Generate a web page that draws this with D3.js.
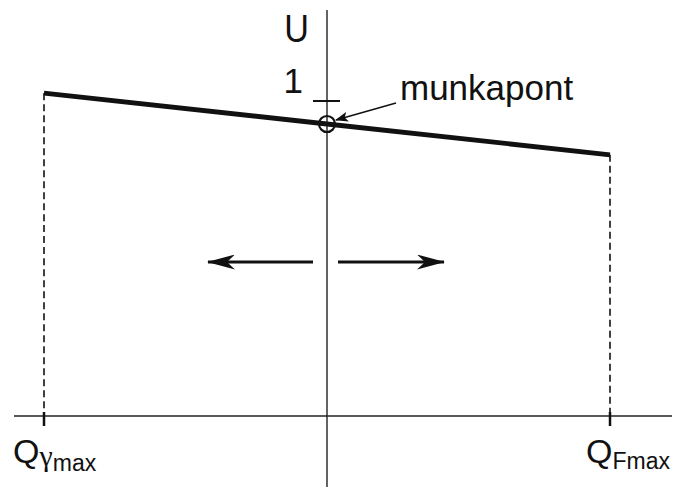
<!DOCTYPE html>
<html>
<head>
<meta charset="utf-8">
<script src="https://cdn.jsdelivr.net/npm/d3@7/dist/d3.min.js"></script>
<style>
  html, body { margin: 0; padding: 0; background: #fff; }
  svg { display: block; font-family: Arial, "Liberation Sans", sans-serif; }
</style>
</head>
<body>
<svg id="chart" width="679" height="487"></svg>
<script>
// Operating range of the load characteristic (Q normalised to -1 … 1)
const qPoints = [-1, 0, 1];
const uValues = [1.025, 0.927, 0.829];
const workPoint = { q: 0, u: 0.927 };
const uTicks = [1];
const uTickLabels = ["1"];
const axisLabelU = "U";
const pointLabel = "munkapont";

const svg = d3.select("#chart");
const x = d3.scaleLinear().domain([-1, 1]).range([44, 610]);
const y = d3.scaleLinear().domain([0, 1]).range([416, 101]);

// axes
svg.append("line").attr("x1", 14).attr("x2", 672)
  .attr("y1", y(0)).attr("y2", y(0))
  .attr("stroke", "#222").attr("stroke-width", 1.4);
svg.append("line").attr("x1", x(0)).attr("x2", x(0))
  .attr("y1", 10).attr("y2", 487)
  .attr("stroke", "#222").attr("stroke-width", 1.4);

// U-axis tick and labels
uTicks.forEach((t, i) => {
  svg.append("line").attr("x1", x(0) - 14).attr("x2", x(0) + 13)
    .attr("y1", y(t)).attr("y2", y(t))
    .attr("stroke", "#111").attr("stroke-width", 2);
  svg.append("text").attr("x", x(0) - 24).attr("y", y(t) - 8)
    .attr("text-anchor", "end").attr("font-size", 35).attr("fill", "#111")
    .text(uTickLabels[i]);
});
svg.append("text").attr("x", x(0) - 18).attr("y", 42)
  .attr("text-anchor", "end").attr("font-size", 38).attr("fill", "#111")
  .attr("transform", `translate(${(x(0) - 18) * 0.1},0) scale(0.9,1)`)
  .text(axisLabelU);

// dashed limits and ticks on Q axis
const data = qPoints.map((q, i) => ({ q, u: uValues[i] }));
[data[0], data[2]].forEach(d => {
  svg.append("line").attr("x1", x(d.q)).attr("x2", x(d.q))
    .attr("y1", y(d.u)).attr("y2", y(0))
    .attr("stroke", "#111").attr("stroke-width", 1.6)
    .attr("stroke-dasharray", "7,4");
  svg.append("line").attr("x1", x(d.q)).attr("x2", x(d.q))
    .attr("y1", y(0) - 4).attr("y2", y(0) + 10)
    .attr("stroke", "#111").attr("stroke-width", 2.5);
});

// characteristic line
svg.append("path").datum(data)
  .attr("d", d3.line().x(d => x(d.q)).y(d => y(d.u)))
  .attr("fill", "none").attr("stroke", "#111").attr("stroke-width", 4.8);

// operating point marker
const cx = x(workPoint.q), cy = y(workPoint.u);
svg.append("circle").attr("cx", cx).attr("cy", cy).attr("r", 8)
  .attr("fill", "none").attr("stroke", "#111").attr("stroke-width", 2.2);

// arrowheads
const defs = svg.append("defs");
defs.append("marker").attr("id", "head").attr("viewBox", "0 0 13 10")
  .attr("refX", 12).attr("refY", 5).attr("markerWidth", 13).attr("markerHeight", 10)
  .attr("markerUnits", "userSpaceOnUse").attr("orient", "auto")
  .append("path").attr("d", "M0,0 L13,5 L0,10 L3,5 Z").attr("fill", "#111");
defs.append("marker").attr("id", "bighead").attr("viewBox", "0 0 28 15")
  .attr("refX", 27).attr("refY", 7.5).attr("markerWidth", 28).attr("markerHeight", 15)
  .attr("markerUnits", "userSpaceOnUse").attr("orient", "auto")
  .append("path").attr("d", "M0,0 L28,7.5 L0,15 L8,7.5 Z").attr("fill", "#111");

// label with pointer to operating point
svg.append("text").attr("x", 400).attr("y", 100)
  .attr("font-size", 35).attr("fill", "#111").text(pointLabel);
svg.append("line").attr("x1", 396).attr("y1", 103)
  .attr("x2", cx + 9).attr("y2", cy - 4)
  .attr("stroke", "#111").attr("stroke-width", 1.4)
  .attr("marker-end", "url(#head)");

// direction arrows
const ay = 262;
svg.append("line").attr("x1", x(0) - 14).attr("x2", 208)
  .attr("y1", ay).attr("y2", ay).attr("stroke", "#111").attr("stroke-width", 3)
  .attr("marker-end", "url(#bighead)");
svg.append("line").attr("x1", x(0) + 11).attr("x2", 444)
  .attr("y1", ay).attr("y2", ay).attr("stroke", "#111").attr("stroke-width", 3)
  .attr("marker-end", "url(#bighead)");

// Q-axis end labels
const qL = svg.append("text").attr("x", 13).attr("y", 463).attr("fill", "#111");
qL.append("tspan").attr("font-size", 34).text("Q");
qL.append("tspan").attr("font-size", 30).attr("font-family", "Liberation Serif, serif")
  .attr("dy", 3).text("γ");
qL.append("tspan").attr("font-size", 23).attr("dy", 5).text("max");

const qR = svg.append("text").attr("x", 586).attr("y", 463).attr("fill", "#111");
qR.append("tspan").attr("font-size", 34).text("Q");
qR.append("tspan").attr("font-size", 23).attr("dy", 6).text("Fmax");
</script>
</body>
</html>
